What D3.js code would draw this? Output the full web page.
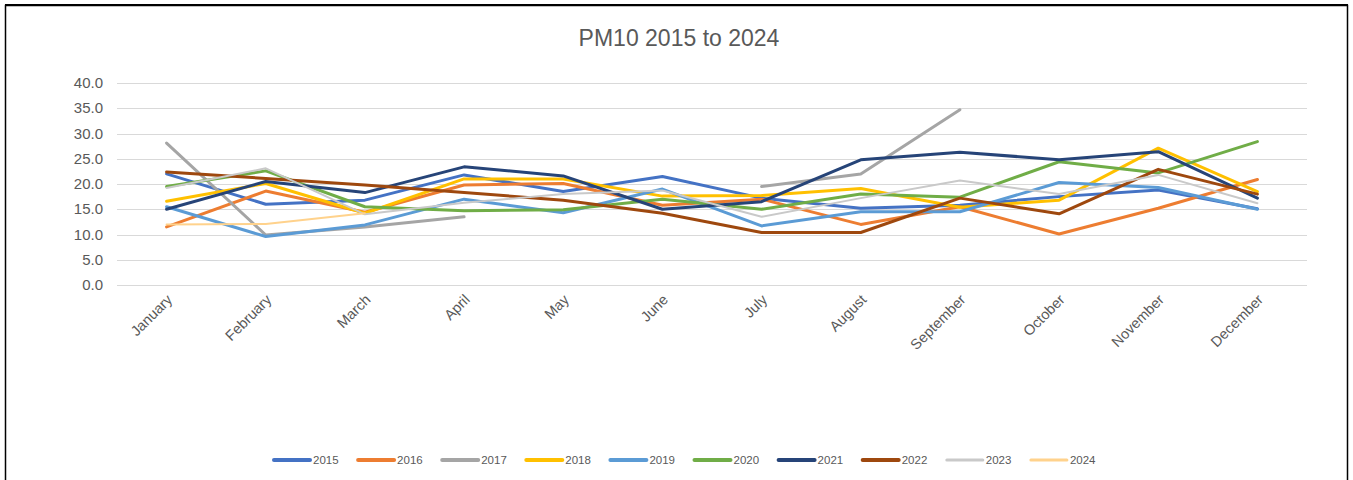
<!DOCTYPE html>
<html>
<head>
<meta charset="utf-8">
<script src="https://cdn.jsdelivr.net/npm/d3@7"></script>
<style>
  body { margin: 0; background: #fff; }
  text { font-family: "Liberation Sans", Arial, sans-serif; }
</style>
</head>
<body>
<div id="chart"></div>
<script>
// Chart size
const width = 1353;
const height = 480;

// Data
const months = ["January", "February", "March", "April", "May", "June",
  "July", "August", "September", "October", "November", "December"];
const years = ["2015", "2016", "2017", "2018", "2019", "2020", "2021", "2022", "2023", "2024"];
const yTicks = [0, 5, 10, 15, 20, 25, 30, 35, 40];

const pm2015 = [22.0, 16.0, 16.8, 21.8, 18.5, 21.5, 17.2, 15.2, 15.8, 17.5, 18.8, 15.1];
const pm2016 = [11.5, 18.6, 14.4, 19.8, 20.1, 15.8, 17.0, 12.0, 15.5, 10.1, 15.2, 20.9];
const pm2017 = [28.1, 9.9, 11.5, 13.5, null, null, 19.5, 22.0, 34.7, null, null, null];
const pm2018 = [16.6, 20.1, 14.2, 21.0, 21.0, 17.6, 17.7, 19.1, 15.4, 16.8, 27.1, 18.5];
const pm2019 = [15.5, 9.6, 11.9, 17.0, 14.3, 19.0, 11.7, 14.5, 14.5, 20.3, 19.3, 15.0];
const pm2020 = [19.5, 22.6, 15.5, 14.7, 14.9, 17.0, 15.0, 18.0, 17.4, 24.4, 22.2, 28.4];
const pm2021 = [15.0, 20.5, 18.3, 23.4, 21.6, 15.0, 16.5, 24.8, 26.3, 24.8, 26.4, 17.2];
const pm2022 = [22.4, 21.1, 19.8, 18.3, 16.8, 14.2, 10.4, 10.4, 17.2, 14.1, 22.9, 18.0];
const pm2023 = [19.2, 23.1, 14.0, 16.3, 18.0, 18.7, 13.5, 17.2, 20.7, 18.0, 21.8, 16.2];
const pm2024 = [12.0, 12.1, 14.2, null, null, null, null, null, null, null, null, null];

const seriesValues = [pm2015, pm2016, pm2017, pm2018, pm2019, pm2020, pm2021, pm2022, pm2023, pm2024];
const colors = ["#4472C4", "#ED7D31", "#A5A5A5", "#FFC000", "#5B9BD5",
  "#70AD47", "#264478", "#9E480E", "#C9C9C9", "#FFD28C"];
const widths = [3, 3, 3, 3, 3, 3, 3, 3, 2, 2];

const svg = d3.select("#chart")
  .append("svg")
  .attr("width", width)
  .attr("height", height);

// Outer frame (bottom edge falls outside the picture)
svg.append("path")
  .attr("d", "M5.5,486 V5.5 H1347.5 V486")
  .attr("fill", "none")
  .attr("stroke", "#000")
  .attr("stroke-width", 1.5);
svg.append("line")
  .attr("x1", 5).attr("x2", 1348)
  .attr("y1", 5).attr("y2", 5)
  .attr("stroke", "#000")
  .attr("stroke-width", 2);

// Title
svg.append("text")
  .attr("x", 679)
  .attr("y", 46)
  .attr("text-anchor", "middle")
  .attr("font-size", 23)
  .attr("fill", "#595959")
  .text("PM10 2015 to 2024");

// Scales
const x = d3.scalePoint()
  .domain(months)
  .range([117, 1307])
  .padding(0.5);

const y = d3.scaleLinear()
  .domain([0, 40])
  .range([285, 83]);

// Gridlines
svg.append("g")
  .selectAll("line")
  .data(yTicks)
  .enter()
  .append("line")
  .attr("x1", 117)
  .attr("x2", 1307)
  .attr("y1", d => Math.round(y(d)) + 0.5)
  .attr("y2", d => Math.round(y(d)) + 0.5)
  .attr("stroke", "#D9D9D9")
  .attr("stroke-width", 1);

// Y axis labels
svg.append("g")
  .selectAll("text")
  .data(yTicks)
  .enter()
  .append("text")
  .attr("x", 103)
  .attr("y", d => y(d) + 5)
  .attr("text-anchor", "end")
  .attr("font-size", 15)
  .attr("fill", "#595959")
  .text(d => d.toFixed(1));

// X axis labels, rotated
svg.append("g")
  .selectAll("text")
  .data(months)
  .enter()
  .append("text")
  .attr("transform", d => `translate(${x(d) + 3},${297}) rotate(-45)`)
  .attr("text-anchor", "end")
  .attr("dy", "0.35em")
  .attr("font-size", 14.5)
  .attr("fill", "#595959")
  .text(d => d);

// Lines
const line = d3.line()
  .defined(d => d.v != null)
  .x(d => x(d.m))
  .y(d => y(d.v));

seriesValues.forEach((vals, i) => {
  const pts = vals.map((v, j) => ({ m: months[j], v: v }));
  svg.append("path")
    .datum(pts)
    .attr("d", line)
    .attr("fill", "none")
    .attr("stroke", colors[i])
    .attr("stroke-width", widths[i])
    .attr("stroke-linejoin", "round")
    .attr("stroke-linecap", "round");
});

// Legend
const legend = svg.append("g")
  .selectAll("g")
  .data(years)
  .enter()
  .append("g")
  .attr("transform", (d, i) => `translate(${274 + i * 84.1},460)`);

legend.append("line")
  .attr("x1", 0)
  .attr("x2", 36)
  .attr("stroke", (d, i) => colors[i])
  .attr("stroke-width", (d, i) => widths[i] + 1)
  .attr("stroke-linecap", "round");

legend.append("text")
  .attr("x", 39)
  .attr("y", 4)
  .attr("font-size", 11.5)
  .attr("fill", "#595959")
  .text(d => d);
</script>
</body>
</html>
